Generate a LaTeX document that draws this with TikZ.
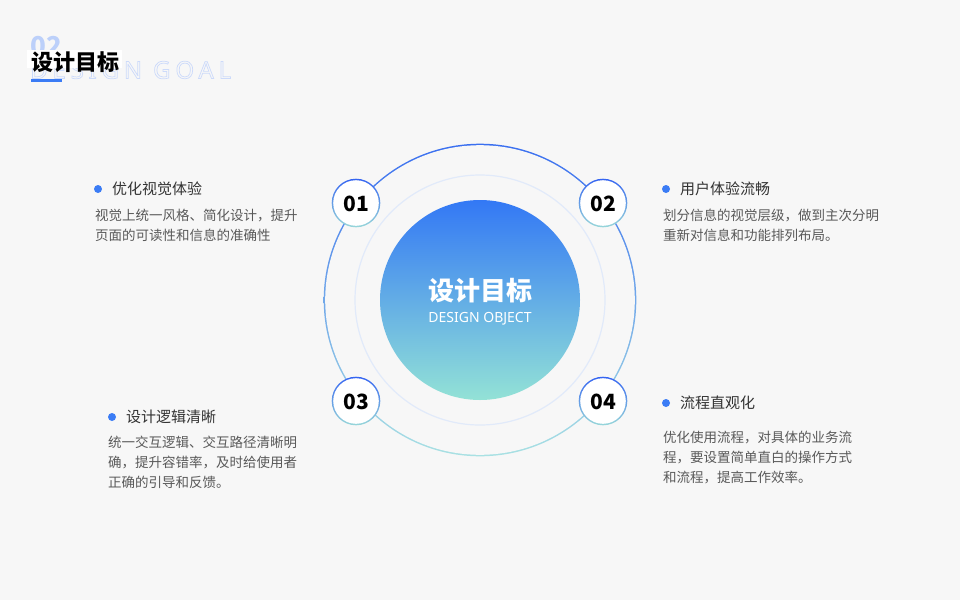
\documentclass[tikz,border=0pt]{standalone}
\usepackage{fontspec}
\setmainfont{Noto Sans CJK SC}
\newfontfamily\latinfont{Noto Sans}
\newfontfamily\goalfont[FakeBold=3,LetterSpace=20]{Noto Sans}
\usetikzlibrary{shadings,calc}
\definecolor{bgc}{HTML}{F7F7F7}
\definecolor{ringtop}{HTML}{3A6FF0}
\definecolor{ringbot}{HTML}{A9E1E3}
\definecolor{gradtop}{HTML}{3378F5}
\definecolor{gradbot}{HTML}{93E2D6}
\definecolor{midring}{HTML}{E1EAFA}
\definecolor{bulletc}{HTML}{3B7CF5}
\definecolor{titlec}{HTML}{333333}
\definecolor{bodyc}{HTML}{595959}
\definecolor{lightblue}{HTML}{BCD0FA}
\definecolor{outlinec}{HTML}{CCDAFA}
\definecolor{barc}{HTML}{3B7CF5}
\tikzset{
  bullet/.style={circle,fill=bulletc,inner sep=0pt,minimum size=8pt},
  itemtitle/.style={anchor=west,inner sep=0pt,text=titlec,font=\fontsize{15}{17}\selectfont},
  itembody/.style={anchor=north west,inner sep=0pt,align=left,text=bodyc,font=\fontsize{13.5}{20}\selectfont},
  numtext/.style={inner sep=0pt,font=\bfseries\fontsize{21}{22}\selectfont,text=black},
  goaltext/.style={inner sep=0pt,anchor=west,font=\goalfont\fontsize{24}{24}\selectfont}
}
\begin{document}
\begin{tikzpicture}[x=1pt,y=-1pt]
\fill[bgc] (0,0) rectangle (960,600);
\useasboundingbox (0,0) rectangle (960,600);
% header
\node[inner sep=0pt,anchor=west,text=lightblue,font=\bfseries\fontsize{26}{26}\selectfont] (num) at (30,46) {02};
\node[goaltext,text=outlinec] (goal) at (30,70) {\special{pdf:code 0.969 0.969 0.969 rg}DESIGN GOAL};
\fill[white] (27,50) rectangle (122,68);
\node[inner sep=0pt,anchor=west,text=black,font=\bfseries\fontsize{22}{23}\selectfont] (title) at (31,62) {设计目标};
\fill[barc] (31,78.5) rectangle (62,81.5);
% rings
\coordinate (c) at (480,300);
\shade[top color=ringtop,bottom color=ringbot] (c) circle (156.3);
\fill[bgc] (c) circle (154.8);
\draw[midring,line width=1.2pt] (c) circle (125);
\shade[top color=gradtop,bottom color=gradbot] (c) circle (100);
\node[inner sep=0pt,text=white,font=\bfseries\fontsize{26}{28}\selectfont] (ct) at (480,291) {设计目标};
\node[inner sep=0pt,text=white,font=\latinfont\fontsize{14}{15}\selectfont] (cs) at (480,319) {DESIGN OBJECT};
% number circles
\foreach \n/\x/\y in {01/356/203,02/603/203,03/356/401,04/603/401}{
  \shade[top color=ringtop!90!blue,bottom color=ringbot!90!teal] (\x,\y) circle (24.3);
  \fill[white] (\x,\y) circle (22.8);
  \node[numtext] (n\n) at (\x,\y+1) {\n};
}
% item 1
\node[bullet] (b1) at (98,189) {};
\node[itemtitle] (t1) at (112,189) {优化视觉体验};
\node[itembody] (d1) at (95,209) {视觉上统一风格、简化设计，提升\\页面的可读性和信息的准确性};
% item 2
\node[bullet] (b2) at (666,189) {};
\node[itemtitle] (t2) at (680,189) {用户体验流畅};
\node[itembody] (d2) at (663,209) {划分信息的视觉层级，做到主次分明\\重新对信息和功能排列布局。};
% item 3
\node[bullet] (b3) at (112,417) {};
\node[itemtitle] (t3) at (126,417) {设计逻辑清晰};
\node[itembody] (d3) at (108,436) {统一交互逻辑、交互路径清晰明\\确，提升容错率，及时给使用者\\正确的引导和反馈。};
% item 4
\node[bullet] (b4) at (666,403) {};
\node[itemtitle] (t4) at (680,403) {流程直观化};
\node[itembody] (d4) at (663,431) {优化使用流程，对具体的业务流\\程，要设置简单直白的操作方式\\和流程，提高工作效率。};
\end{tikzpicture}
\end{document}
